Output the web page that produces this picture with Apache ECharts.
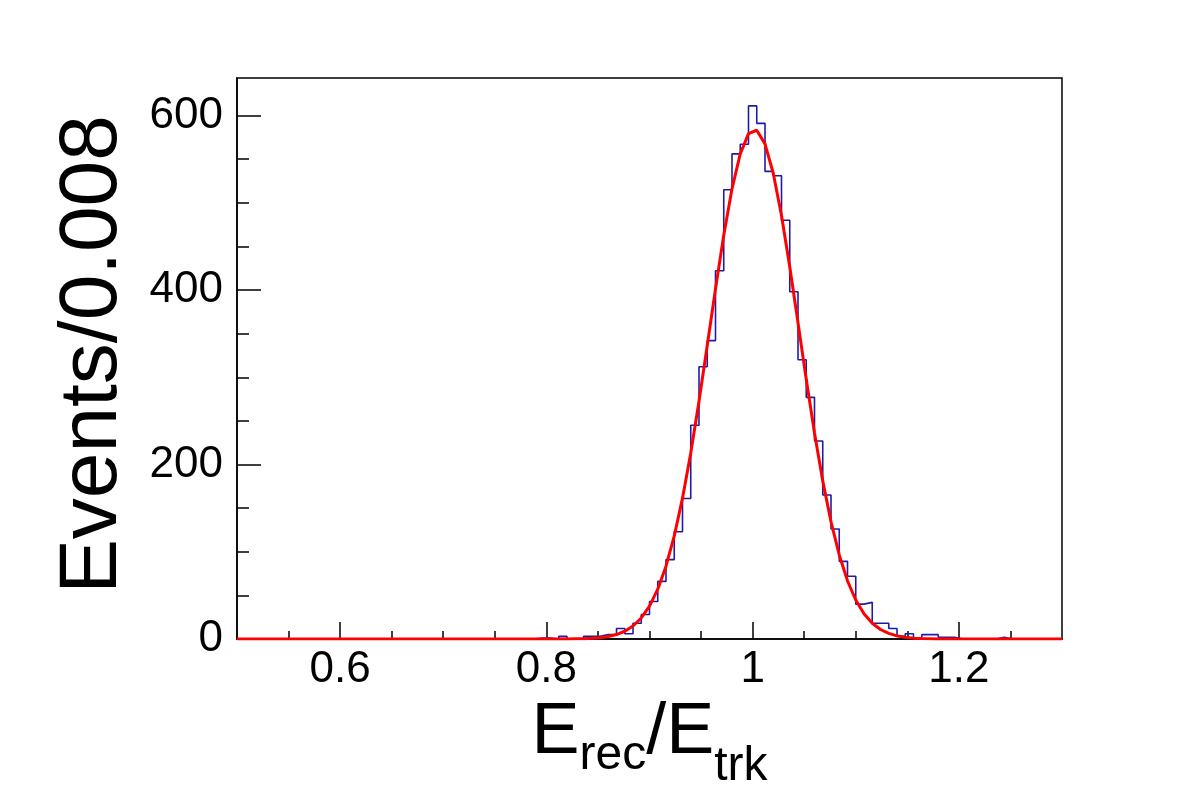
<!DOCTYPE html>
<html><head><meta charset="utf-8">
<script src="https://cdn.jsdelivr.net/npm/echarts@6/dist/echarts.min.js"></script>
<style>html,body{margin:0;background:#fff}#c{width:1182px;height:800px}</style>
</head><body><div id="c"></div>
<script>
// histogram: 100 bins of width 0.008 from 0.5 to 1.3
const binStart = 0.5;
const binWidth = 0.008;
const counts = [
  0,0,0,0,0,0,0,0,0,0,
  0,0,0,0,0,0,0,0,0,0,
  0,0,0,0,0,0,0,0,0,0,
  0,0,0,0,0,0,1,1,0,3,
  0,0,3,3,5,5,12,6,18,28,
  43,66,91,123,161,245,312,342,422,515,
  556,567,611,591,536,531,480,398,320,277,
  227,165,126,89,72,40,42,18,18,12,
  3,6,0,5,5,2,2,0,0,0,
  0,0,2,0,0,0,0,0,0,0
];
// fit curve, sampled every 0.008 from 0.5 to 1.3 (101 points)
const fitValues = [
  0,0,0,0,0,0,0,0,0,0,
  0,0,0,0,0,0,0,0,0,0,
  0,0,0,0,0,0,0,0,0,0,
  0,0,0,0,0,0,0,0,0,0,
  0,0.2,0.4,0.8,1.5,2.9,5.1,8.9,14.9,24.1,
  37.7,57.1,83.5,118.1,161.4,213.3,272.4,336.3,401.3,462.8,
  516.0,556.0,579.2,583.1,567.5,533.8,485.4,426.6,362.4,297.6,
  236.2,181.2,134.4,96.3,66.7,44.7,28.9,18.1,10.9,6.4,
  3.6,2.0,1.0,0.5,0.3,0,0,0,0,0,
  0,0,0,0,0,0,0,0,0,0,
  0
];
const xMajorTicks = [0.6, 0.8, 1.0, 1.2];
const xMinorTicks = [0.55, 0.65, 0.7, 0.75, 0.85, 0.9, 0.95, 1.05, 1.1, 1.15, 1.25];
const yMajorTicks = [0, 200, 400, 600];
const yMinorTicks = [50, 100, 150, 250, 300, 350, 450, 500, 550];

const histData = counts.map((v, k) => [binStart + k * binWidth, v]);
histData.push([binStart + counts.length * binWidth, counts[counts.length - 1]]);
const fitData = fitValues.map((v, i) => [binStart + i * binWidth, v]);

const FONT = 'Liberation Sans, Arial, Helvetica, sans-serif';
const chart = echarts.init(document.getElementById('c'), null, {renderer: 'canvas'});
const fmt = v => String(parseFloat(Number(v).toFixed(2)));

chart.setOption({
  animation: false,
  backgroundColor: '#fff',
  grid: {left: 237, right: 120, top: 78, bottom: 161, show: true,
         borderColor: '#000', borderWidth: 1.5, backgroundColor: 'transparent',
         containLabel: false, outerBoundsMode: 'none'},
  xAxis: [
    {type: 'value', min: 0.5, max: 1.3, position: 'bottom', offset: 0,
     axisLine: {show: true, lineStyle: {color: '#000', width: 1.5}},
     axisTick: {show: true, inside: true, length: 17, customValues: xMajorTicks, lineStyle: {color: '#000', width: 1.5}},
     axisLabel: {show: true, customValues: xMajorTicks, formatter: fmt, margin: 9,
                 color: '#000', fontSize: 44, fontFamily: FONT},
     splitLine: {show: false},
     name: '{a|E}{r|rec}{a|/E}{t|trk}', nameLocation: 'middle', nameGap: 56,
     nameTextStyle: {
       rich: {
         a: {fontSize: 72, fontFamily: FONT, color: '#000', lineHeight: 72, verticalAlign: 'top'},
         r: {fontSize: 48, fontFamily: FONT, color: '#000', lineHeight: 48, verticalAlign: 'top', padding: [35, 0, 0, 0]},
         t: {fontSize: 48, fontFamily: FONT, color: '#000', lineHeight: 48, verticalAlign: 'top', padding: [46, 0, 0, 0]}
       }
     }},
    {type: 'value', min: 0.5, max: 1.3, position: 'bottom', offset: 0,
     axisLine: {show: false},
     axisTick: {show: true, inside: true, length: 8, customValues: xMinorTicks, lineStyle: {color: '#000', width: 1.5}},
     axisLabel: {show: false},
     splitLine: {show: false}}
  ],
  yAxis: [
    {type: 'value', min: 0, max: 643, position: 'left', offset: 0,
     axisLine: {show: true, lineStyle: {color: '#000', width: 1.5}},
     axisTick: {show: true, inside: true, length: 24, customValues: yMajorTicks, lineStyle: {color: '#000', width: 1.5}},
     axisLabel: {show: true, customValues: yMajorTicks, margin: 14,
                 color: '#000', fontSize: 44, fontFamily: FONT},
     splitLine: {show: false},
     name: 'Events/0.008', nameLocation: 'middle', nameGap: 103, nameRotate: 90,
     nameTextStyle: {fontSize: 82, fontFamily: FONT, color: '#000', padding: [0, 0, 0, 8]}},
    {type: 'value', min: 0, max: 643, position: 'left', offset: 0,
     axisLine: {show: false},
     axisTick: {show: true, inside: true, length: 12, customValues: yMinorTicks, lineStyle: {color: '#000', width: 1.5}},
     axisLabel: {show: false},
     splitLine: {show: false}}
  ],
  series: [
    {type: 'line', name: 'data', data: histData, step: 'end', symbol: 'none',
     xAxisIndex: 0, yAxisIndex: 0,
     lineStyle: {color: '#1c1ca8', width: 1.6}, z: 2},
    {type: 'line', name: 'fit', data: fitData, symbol: 'none', smooth: false,
     xAxisIndex: 0, yAxisIndex: 0,
     lineStyle: {color: '#ff0000', width: 3}, z: 3}
  ]
});
</script>
</body></html>
